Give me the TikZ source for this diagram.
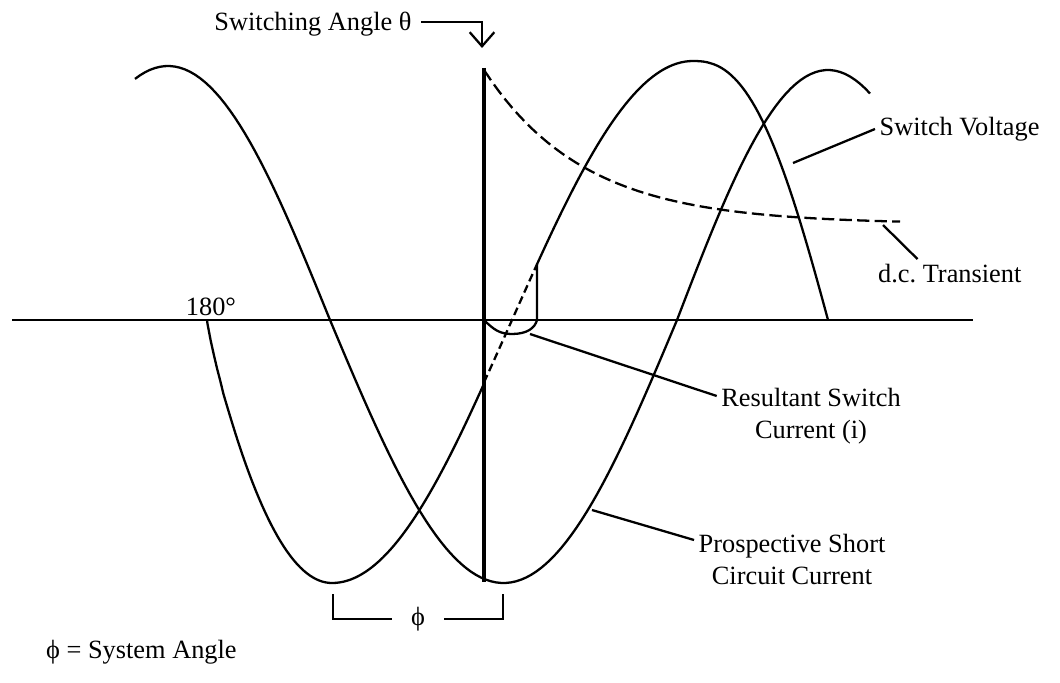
\documentclass[tikz,border=0pt]{standalone}
\usepackage{fontspec}
\setmainfont{Liberation Serif}
\usetikzlibrary{arrows.meta}

\begin{document}
\begin{tikzpicture}[x=0.02cm,y=-0.02cm,line width=1.3pt,
    font=\fontsize{15}{18.2}\selectfont,
    lbl/.style={inner sep=2pt},
    longdash/.style={dash pattern=on 7pt off 3pt},
    shortdash/.style={dash pattern=on 4.5pt off 2.5pt}]
      \useasboundingbox (0,0) rectangle (1060,682);

      % Axis and switching instant
      \draw (12,320) -- (973,320);
      \draw[line width=2.6pt] (484,68) -- (484,582);

      % Prospective short circuit current
      \draw plot[domain=135:330,samples=40] (\x,{320-254*cos((\x-168)/162*90)})
        -- plot[domain=330:677,samples=70] (\x,{320+263*sin((\x-330)/347*180)})
        -- plot[domain=677:870,samples=40] (\x,{320-250*sin((\x-677)/151*90)});

      % Switch voltage
      \draw (207,320) -- plot[domain=207.5:332,samples=40] (\x,{320+263*sin(90*((\x-207)/125)^0.85)})
        -- plot[domain=332:484,samples=40] (\x,{320+263*cos((\x-332)/180*90)});
      \draw[shortdash] plot[domain=484:537,samples=15] (\x,{320-259*sin((\x-512)/181*90)});
      \draw plot[domain=537:693,samples=40] (\x,{320-259*sin((\x-512)/181*90)})
        -- plot[domain=693.5:828,samples=40] (\x,{320-259*cos(90*((\x-693)/135)^1.23)});

      % d.c. transient
      \draw[longdash] plot[domain=484:900,samples=60] (\x,{224-154*exp(-(\x-484)/100)});

      % Resultant switch current
      \draw (484,320) .. controls (494,330) and (500,334) .. (512,334)
        .. controls (527,334) and (535,328) .. (537,320) -- (537,264);

      % Switching angle
      \node[lbl,anchor=base] (swang) at (313,31) {Switching Angle θ};
      \coordinate (swtip) at (482,48);
      \draw[-{Straight Barb[length=8pt,width=14pt]}] ([xshift=3pt,yshift=1.5pt]swang.east) -| (swtip);

      % Labels
      \coordinate (svpt) at (793,163);
      \node[lbl,anchor=west] (sv) at (875,129) {Switch Voltage};
      \draw (svpt) -- (sv.west);

      \coordinate (dcpt) at (883,225);
      \node[lbl,anchor=base west] (dct) at (873.5,282) {d.c.\ Transient};
      \draw (dcpt) -- ([xshift=0.88cm]dct.north west);

      \coordinate (rscpt) at (530,334);
      \node[lbl,anchor=north,align=center] (rsc) at (811,384) {Resultant Switch\\Current (i)};
      \draw (rscpt) -- ([yshift=-0.24cm]rsc.north west);

      \coordinate (pscpt) at (592,510);
      \node[lbl,anchor=north,align=center] (psc) at (792,530) {Prospective Short\\Circuit Current};
      \draw (pscpt) -- ([yshift=-0.2cm]psc.north west);

      \node[lbl,anchor=base] (deg) at (211,315) {180°};

      % System angle
      \node[inner xsep=0.35cm,inner ysep=2pt] (phi) at (418,619) {ϕ};
      \coordinate (phl) at (333,594);
      \coordinate (phr) at (503,594);
      \draw (phl) |- (phi.west);
      \draw (phr) |- (phi.east);
      \node[lbl,anchor=base west] (phinote) at (41.5,658) {ϕ = System Angle};
\end{tikzpicture}
\end{document}
